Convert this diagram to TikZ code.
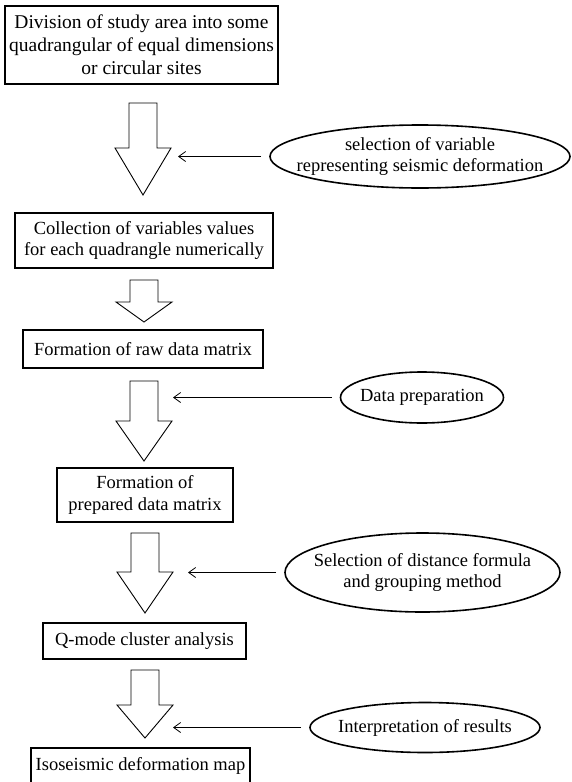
\documentclass[tikz,border=0pt]{standalone}
\usepackage{fontspec}
\setmainfont{Liberation Serif}
\usepackage{tikz}
\usetikzlibrary{shapes.geometric, arrows.meta}

% hollow block arrow: centre x, top, base of head, tip
\newcommand{\bigarrow}[4]{%
  \draw[line width=0.9pt] (#1-14,#2) -- (#1+14,#2) -- (#1+14,#3) -- (#1+28,#3) -- (#1,#4) -- (#1-28,#3) -- (#1-14,#3) -- cycle;}

\begin{document}
\begin{tikzpicture}[x=1pt, y=-1pt, font=\fontsize{18.5}{21.5}\selectfont,
  stepbox/.style={draw, rectangle, line width=1.6pt, inner sep=0pt, align=center},
  oval/.style={draw, ellipse, line width=1.6pt, inner xsep=-150pt, inner ysep=-40pt, align=center},
  feed/.style={-{Straight Barb[length=7pt, width=10pt]}, line width=0.8pt, shorten <=8pt}]
\useasboundingbox (0,0) rectangle (571,782);

\node[stepbox, minimum width=273pt, minimum height=78pt, font=\fontsize{19.5}{23}\selectfont] (division) at (141.5,45) {Division of study area into some\\quadrangular of equal dimensions\\or circular sites};
\node[stepbox, minimum width=258pt, minimum height=55pt] (collection) at (144,240.5) {Collection of variables values\\for each quadrangle numerically};
\node[stepbox, minimum width=240pt, minimum height=38pt] (raw) at (143,349) {Formation of raw data matrix};
\node[stepbox, minimum width=176pt, minimum height=54pt] (prepared) at (145,495) {Formation of\\prepared data matrix};
\node[stepbox, minimum width=203pt, minimum height=36pt] (qmode) at (144.5,641) {Q-mode cluster analysis};
\node[stepbox, minimum width=219pt, minimum height=36pt] (map) at (140.5,766) {Isoseismic deformation map};

\node[oval, minimum width=300pt, minimum height=63pt] (variable) at (420,156.5) {selection of variable\\representing seismic deformation};
\node[oval, minimum width=163pt, minimum height=51pt] (preparation) at (422,397.5) {Data preparation};
\node[oval, minimum width=275pt, minimum height=79pt] (distance) at (422.5,572.5) {Selection of distance formula\\and grouping method};
\node[oval, minimum width=230pt, minimum height=50pt] (interpretation) at (425,727.5) {Interpretation of results};

\bigarrow{143}{103}{148}{195}
\bigarrow{144}{280}{302}{322}
\bigarrow{144}{381}{421}{461}
\bigarrow{145}{533}{572}{613}
\bigarrow{145}{670}{705}{738}

\coordinate (in1) at (178,156.5);
\coordinate (in2) at (173,397.5);
\coordinate (in3) at (188,572.5);
\coordinate (in4) at (173,727.5);

\draw[feed] (variable.west) -- (in1);
\draw[feed] (preparation.west) -- (in2);
\draw[feed] (distance.west) -- (in3);
\draw[feed] (interpretation.west) -- (in4);
\end{tikzpicture}
\end{document}
